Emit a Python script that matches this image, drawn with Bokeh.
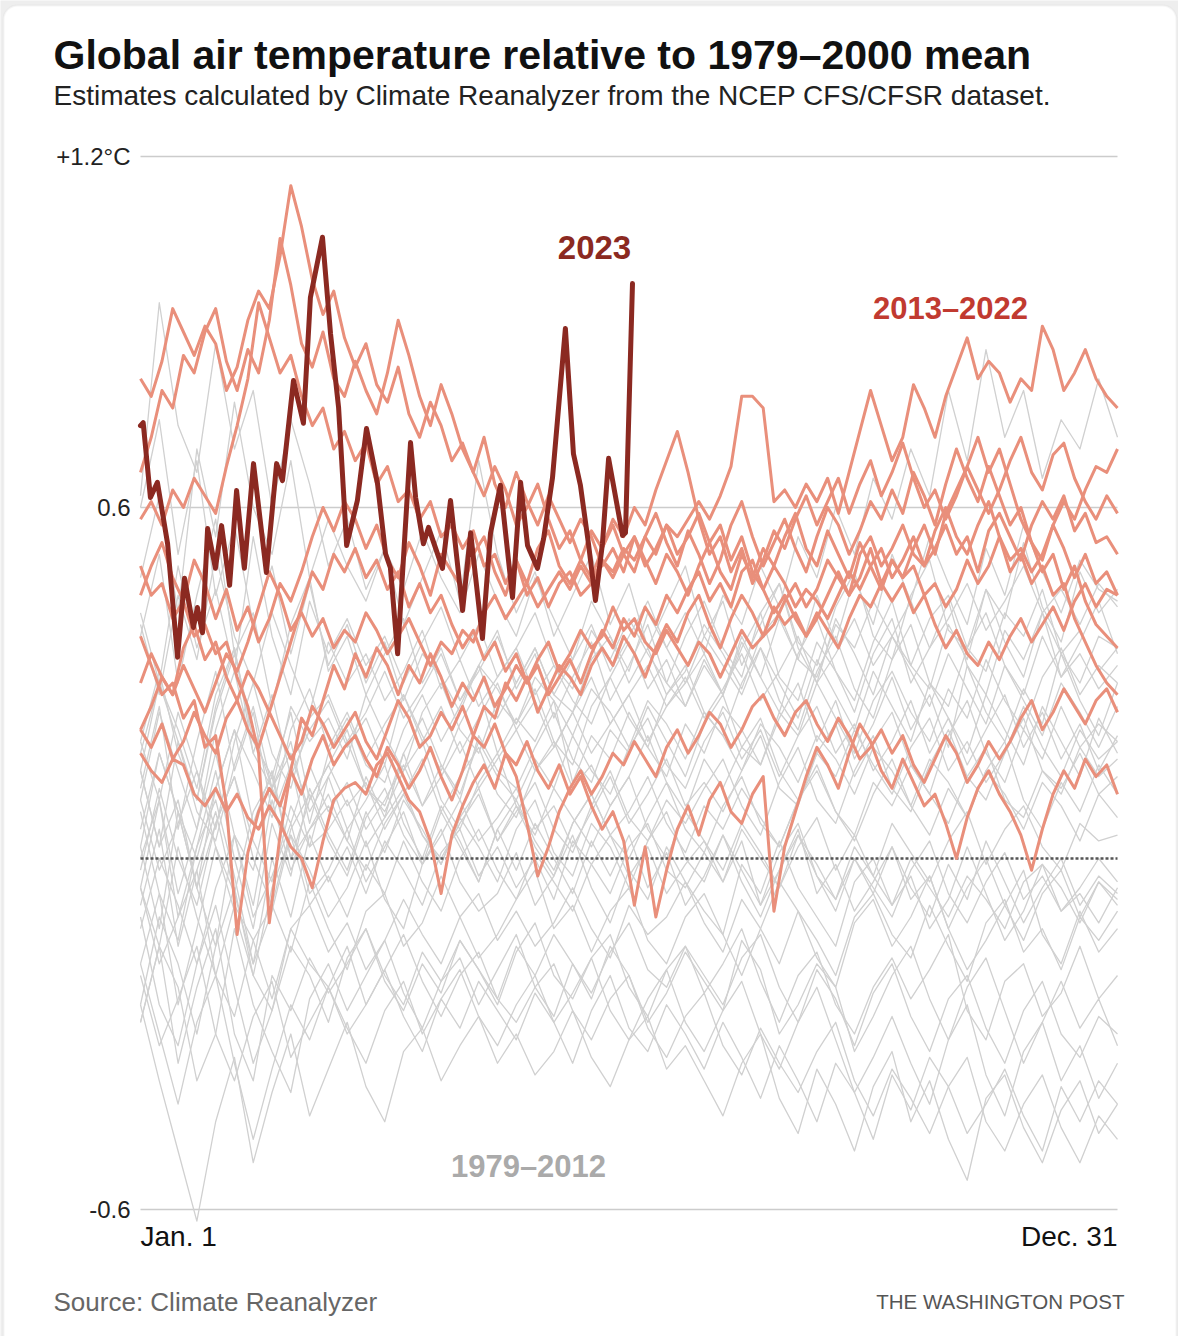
from bokeh.plotting import figure
from bokeh.models import Label, BoxAnnotation
from bokeh.embed import file_html
from bokeh.resources import INLINE

# ---------------- text ----------------
TITLE = "Global air temperature relative to 1979\u20132000 mean"
SUBTITLE = "Estimates calculated by Climate Reanalyzer from the NCEP CFS/CFSR dataset."
SOURCE = "Source: Climate Reanalyzer"
CREDIT = "THE WASHINGTON POST"
X_LABELS = ["Jan. 1", "Dec. 31"]
Y_TICKS = [1.2, 0.6, -0.6]
Y_TICK_LABELS = ["+1.2\u00b0C", "0.6", "-0.6"]
LABEL_2023 = "2023"
LABEL_RECENT = "2013\u20132022"
LABEL_OLD = "1979\u20132012"

# ---------------- data (anomaly in hundredths of a degree C) ----------------
GRAY_DAYS = list(range(0, 358, 7)) + [364]   # day of year of each sample
RED_DAYS = list(range(0, 365, 4))

T1979 = [-28,-15,-22,-38,-30,-12,-25,-33,-40,-24, -18,-26,-20,-14,-23,-29,-21,-17,-25,-19,
         -13,-22,-27,-18,-24,-15,-20,-28,-23,-16, -21,-26,-14,-19,-30,-25,-18,-22,-33,-27,
         -20,-15,-24,-31,-22,-17,-26,-35,-28,-21, -29,-24,-32]
T1980 = [-5,-18,-10,-2,-20,-27,-14,-8,-16,-4, -12,-19,-9,-6,-15,-11,-3,-10,-17,-13,
         -7,-2,-12,-8,-16,-9,-5,-14,-18,-10, -6,-13,-20,-12,-4,-9,-17,-22,-11,-7,
         -15,-10,-3,-12,-19,-14,-8,-2,-13,-18, -9,-16,-12]
T1981 = [8,-6,-14,2,10,-3,-18,-9,4,-2, -10,-5,3,-7,-12,-1,5,-4,-9,-6,
         1,-8,-3,4,-5,-11,-2,-7,2,-4, -9,-13,-1,-6,3,-5,-10,-15,-4,0,
         -8,-3,-12,-7,2,-6,-14,-9,-1,-5, -11,-4,-8]
T1982 = [-20,-32,-24,-15,-30,-38,-27,-21,-34,-28, -22,-30,-25,-19,-27,-33,-24,-29,-21,-26,
         -31,-23,-28,-35,-26,-20,-29,-33,-25,-30, -36,-28,-34,-41,-32,-38,-45,-35,-40,-48,
         -37,-43,-34,-39,-47,-42,-36,-44,-50,-39, -45,-38,-42]
T1983 = [20,32,18,10,25,35,22,12,18,8, 14,5,10,16,6,0,9,3,-4,5,
         -2,6,0,-6,3,-3,4,-5,1,-8, -3,4,-4,-10,-2,5,-6,-1,-9,-4,
         2,-7,-3,-12,-5,0,-8,-14,-6,-2, -10,-4,-7]
T1984 = [-18,-30,-42,-28,-20,-35,-48,-36,-25,-31, -22,-29,-35,-26,-21,-30,-24,-19,-27,-32,
         -25,-20,-28,-23,-17,-26,-31,-24,-19,-28, -33,-26,-21,-30,-36,-28,-22,-31,-40,-34,
         -27,-35,-42,-31,-25,-37,-44,-33,-28,-38, -32,-41,-35]
T1985 = [-25,-38,-50,-62,-45,-34,-52,-40,-30,-44, -36,-28,-39,-45,-33,-29,-38,-32,-27,-35,
         -30,-37,-33,-26,-34,-39,-31,-27,-36,-32, -38,-44,-35,-30,-41,-47,-36,-42,-50,-39,
         -33,-45,-38,-48,-55,-41,-37,-46,-52,-43, -38,-47,-42]
T1986 = [-10,-25,-32,-18,-8,-22,-35,-26,-15,-20, -28,-17,-12,-21,-26,-18,-23,-14,-19,-25,
         -16,-11,-20,-24,-17,-13,-22,-27,-19,-15, -23,-18,-12,-21,-28,-20,-16,-25,-30,-22,
         -17,-24,-19,-13,-26,-31,-21,-18,-27,-23, -15,-24,-20]
T1987 = [-12,0,-8,-18,-5,4,-10,-3,6,-6, -2,5,-4,2,8,-1,4,10,3,7,
         12,5,9,2,8,14,6,11,17,9, 13,8,15,21,12,9,18,14,22,16,
         11,19,24,15,20,13,18,26,19,14, 22,17,20]
T1988 = [18,30,22,12,28,36,20,14,25,10, 16,22,12,8,15,20,10,5,13,18,
         9,4,12,7,2,9,14,5,0,8, 3,-2,6,1,-5,4,-1,-7,2,-3,
         -8,0,-5,-10,-3,-7,-12,-4,-1,-9, -6,-11,-5]
T1989 = [-25,-10,-18,-30,-15,-5,-20,-26,-12,-8, -16,-11,-19,-14,-7,-13,-18,-10,-6,-14,
         -9,-15,-11,-5,-12,-17,-8,-13,-10,-4, -11,-16,-7,-12,-18,-9,-14,-20,-10,-6,
         -13,-17,-8,-15,-21,-11,-7,-16,-12,-19, -10,-14,-9]
T1990 = [-2,12,0,-8,6,14,3,-4,9,2, 5,10,2,7,12,4,0,6,11,3,
         8,13,5,1,9,15,7,3,10,6, 12,17,9,4,13,19,10,6,15,21,
         12,8,16,22,14,10,18,24,15,11, 19,14,17]
T1991 = [10,-2,6,15,2,-6,8,14,0,5, 9,3,-2,6,11,4,-1,7,2,-4,
         5,10,1,-3,6,2,-5,3,8,0, -4,4,-2,-8,1,6,-3,-7,0,-5,
         -10,-2,3,-6,-11,-4,1,-7,-3,-9, -5,0,-4]
T1992 = [-5,-15,2,-10,-20,-8,-14,-24,-12,-18, -22,-15,-25,-19,-13,-21,-27,-20,-16,-24,
         -28,-22,-18,-26,-31,-24,-20,-29,-34,-27, -23,-32,-37,-29,-35,-40,-33,-28,-38,-44,
         -36,-41,-47,-39,-34,-45,-50,-42,-37,-46, -52,-44,-48]
T1993 = [-28,-15,-35,-22,-12,-30,-38,-20,-26,-17, -23,-18,-12,-20,-25,-16,-21,-14,-19,-24,
         -15,-20,-13,-18,-23,-16,-11,-19,-22,-15, -20,-25,-17,-13,-22,-28,-19,-24,-32,-23,
         -18,-27,-33,-24,-20,-29,-35,-26,-21,-30, -34,-27,-30]
T1994 = [-18,-6,-25,-12,2,-9,-20,-5,4,-8, -3,-10,-1,-6,3,-4,-9,0,5,-2,
         -7,1,-4,-9,-1,4,-3,2,-6,-1, 3,-4,5,0,-5,2,7,-2,4,-3,
         6,1,-4,3,8,-1,5,9,2,-2, 6,3,4]
T1995 = [2,18,8,-5,12,22,6,15,0,10, 16,9,13,5,11,17,8,14,19,11,
         7,15,20,12,16,9,14,21,13,8, 17,12,19,24,15,10,18,23,14,20,
         25,16,11,21,27,18,13,22,17,26, 19,23,20]
T1996 = [-8,5,-15,-2,8,-6,-18,0,-10,4, -4,2,-6,3,-2,-8,1,5,-3,2,
         -5,0,-7,3,-1,-6,2,6,-2,-5, 1,-4,3,-8,-2,4,-3,-9,0,-6,
         2,-5,-10,-1,-7,3,-4,-11,-5,0, -8,-3,-6]
T1997 = [0,10,-6,5,18,4,-2,12,6,16, 8,13,5,10,16,9,14,20,12,17,
         22,15,19,25,18,23,28,20,26,31, 24,29,35,27,32,38,30,35,41,33,
         38,44,36,41,47,39,44,50,42,46, 40,47,43]
T1998 = [62,95,74,66,88,70,80,60,75,64, 50,58,46,53,40,48,56,44,68,52,
         42,49,38,45,52,40,47,36,43,50, 38,44,33,40,47,36,30,41,35,28,
         38,32,26,35,29,23,33,27,21,30, 25,19,26]
T1999 = [15,2,10,-5,6,14,0,-8,5,11, 3,-3,7,12,4,-1,8,2,-4,5,
         10,3,-2,6,11,4,0,7,13,5, 1,9,14,6,2,10,16,8,3,11,
         17,9,4,12,7,15,20,10,5,13, 8,16,11]
T2000 = [-5,10,-10,2,15,0,-12,6,-3,12, 4,-2,8,1,10,5,-1,7,12,3,
         9,2,-3,6,11,4,8,14,6,1, 9,5,12,7,2,10,15,8,4,13,
         9,16,11,6,14,19,10,7,15,12, 18,11,14]
T2001 = [10,25,15,5,22,32,18,12,26,20, 24,17,28,21,15,25,30,22,18,27,
         23,29,20,16,26,31,24,19,28,33, 25,21,30,36,27,22,32,38,29,24,
         34,40,30,26,36,42,33,28,38,31, 35,29,33]
T2002 = [38,52,30,45,58,35,42,26,40,48, 32,38,28,35,41,30,36,27,33,39,
         29,35,24,31,37,27,33,40,30,26, 34,28,36,42,31,27,37,32,25,35,
         41,30,36,44,33,28,39,34,42,31, 37,44,35]
T2003 = [40,28,45,34,52,38,30,42,33,25, 37,30,35,27,32,39,29,34,26,31,
         36,28,33,27,23,31,37,29,34,26, 33,28,38,31,25,35,41,32,27,37,
         44,33,29,40,34,46,37,31,42,35, 39,32,36]
T2004 = [15,30,20,10,26,36,18,28,14,22, 27,19,24,16,28,21,15,23,29,18,
         24,20,27,13,21,17,25,19,14,23, 18,26,22,16,24,30,20,27,17,23,
         31,22,28,19,33,25,20,29,23,35, 27,21,30]
T2005 = [42,30,50,36,46,32,55,38,28,44, 35,41,33,38,30,37,43,34,40,31,
         36,42,33,29,39,34,41,35,30,38, 44,36,31,42,47,37,33,43,49,38,
         34,45,51,39,36,46,41,54,43,37, 49,42,46]
T2006 = [12,26,5,20,32,15,25,8,22,29, 19,25,17,23,28,20,26,18,24,30,
         22,27,19,25,31,23,28,33,26,30, 35,28,37,31,41,34,45,37,48,40,
         52,44,55,47,40,53,45,57,49,42, 51,46,44]
T2007 = [60,75,52,68,45,57,40,50,35,47, 33,40,30,37,27,35,31,25,33,29,
         23,31,27,21,29,25,19,27,23,17, 25,21,15,23,19,13,21,17,11,19,
         15,9,17,13,7,15,11,5,13,9, 3,11,7]
T2008 = [2,-12,8,-5,-15,4,-8,10,-2,5, 11,3,14,7,18,9,16,11,20,14,
         10,17,12,21,15,11,19,24,16,12, 20,25,17,22,14,21,26,18,23,15,
         20,27,18,24,16,22,28,19,25,17, 23,15,21]
T2009 = [20,10,25,15,5,20,30,18,12,24, 28,20,25,32,24,29,35,27,32,38,
         30,36,28,34,40,32,38,44,36,42, 35,45,40,50,43,55,48,60,52,65,
         58,70,62,80,68,87,72,80,65,75, 70,82,72]
T2010 = [48,62,42,70,55,78,60,52,68,48, 58,50,44,53,46,56,48,42,52,44,
         38,48,41,34,44,38,32,42,36,30, 38,33,28,36,30,24,34,28,22,32,
         26,20,30,24,18,28,22,16,26,20, 14,24,18]
T2011 = [5,18,8,0,12,22,15,7,16,2, 14,20,12,9,18,24,16,10,21,15,
         12,19,25,17,13,22,18,26,20,14, 23,28,19,16,25,21,30,24,18,27,
         32,25,20,29,24,34,27,22,31,36, 28,33,30]
T2012 = [15,2,20,8,3,16,26,12,20,6, 18,24,16,13,22,28,20,26,33,24,
         30,36,28,25,34,38,30,36,28,32, 40,35,29,38,42,34,31,40,36,44,
         38,33,41,45,36,32,42,38,46,35, 30,38,36]

T2013 = [22,19,23,17,20,25,21,18,24,27, 22,19,25,21,17,20,26,23,19,22,
         25,20,17,22,27,24,19,21,25,22, 26,21,19,23,18,16,20,15,12,16,
         11,14,9,5,8,3,-8,2,-10,-2, 5,9,4,10,13,8,6,11,14,-9,
         2,8,14,19,16,12,18,23,20,15, 12,17,13,9,11,6,0,7,12,15,
         11,8,4,-2,5,11,15,12,17,14, 16,11]
T2014 = [18,15,13,17,16,11,9,12,8,11, 7,5,9,6,2,0,-5,3,10,12,
         13,11,16,18,14,10,8,3,-6,4, 9,13,16,12,18,14,6,-3,2,8,
         12,15,11,14,18,16,20,17,14,19, 22,18,21,25,23,19,22,26,28,24,
         21,25,27,23,20,24,21,17,19,22, 18,21,16,13,17,21,18,13,16,20,
         17,20,24,27,22,25,29,26,23,27, 29,25]
T2015 = [22,26,31,28,33,29,25,30,35,32, 37,43,49,45,39,42,38,41,36,39,
         37,42,39,35,38,41,37,33,37,35, 39,37,42,45,41,44,47,43,46,49,
         46,50,47,51,49,53,51,55,52,57, 55,58,61,58,62,67,79,79,77,61,
         63,60,64,61,65,59,66,73,80,74, 68,72,81,77,72,79,84,89,82,85,
         83,78,82,80,91,87,80,83,87,82, 79,77]
T2016 = [82,79,85,94,90,86,91,88,80,84, 92,97,94,103,115,108,99,93,97,89,
         84,88,81,78,84,76,72,78,74,68, 71,66,62,67,63,57,60,64,58,53,
         56,51,48,53,57,52,49,55,59,54, 50,56,52,47,51,57,61,55,50,54,
         58,53,49,55,60,57,52,56,61,58, 63,59,66,62,57,64,70,65,61,67,
         62,57,60,54,51,57,53,48,52,47, 49,45]
T2017 = [58,61,57,63,60,65,62,59,67,74, 82,95,89,83,86,79,74,77,70,73,
         68,71,64,67,61,63,58,61,55,57, 53,56,50,52,47,51,45,48,43,47,
         49,45,47,51,48,52,55,50,53,57, 52,55,59,54,57,51,55,49,46,50,
         47,43,46,44,41,45,49,46,50,53, 48,51,55,50,53,57,52,55,49,56,
         59,55,51,57,61,58,62,56,59,54, 55,52]
T2018 = [50,45,47,41,44,38,40,35,37,31, 26,18,-11,4,15,24,21,27,33,29,
         35,31,36,33,28,33,30,35,31,26, 30,27,31,26,29,33,30,34,37,32,
         35,39,36,38,43,39,41,37,35,39, 36,33,37,35,31,35,39,36,38,43,
         40,42,38,41,45,49,45,48,53,47, 51,48,50,45,47,43,46,51,47,50,
         55,51,53,49,52,57,61,58,63,67, 66,70]
T2019 = [45,50,54,48,44,51,47,41,46,39, 43,37,41,47,44,49,55,60,56,61,
         58,53,57,51,48,54,50,45,52,49, 46,52,55,49,45,51,47,53,56,50,
         47,51,56,53,58,55,60,57,63,68, 73,66,58,52,55,49,53,47,51,56,
         53,58,62,57,61,65,59,64,68,62, 66,71,65,60,63,58,62,67,63,59,
         63,68,72,66,63,69,71,65,61,58, 62,59]
T2020 = [66,72,80,77,86,83,90,94,85,80, 87,83,92,106,98,88,84,90,82,79,
         85,80,76,83,92,86,79,74,81,76, 70,66,72,64,60,66,61,57,62,58,
         54,58,55,50,53,49,55,51,47,52, 49,45,50,54,49,46,52,48,53,50,
         55,59,53,50,56,52,48,54,50,46, 51,48,53,57,52,59,63,67,72,66,
         70,64,58,54,49,52,46,50,44,40, 38,36]
T2021 = [38,33,28,30,24,27,19,21,9,-13, 1,8,12,9,15,11,17,21,16,19,
         21,17,14,19,16,12,15,19,14,10, 15,21,26,24,30,27,31,25,29,33,
         31,28,33,36,33,38,35,31,36,40, 37,42,45,40,36,41,45,42,38,40,
         44,47,43,46,51,48,45,52,55,50, 53,57,52,50,56,60,55,52,57,61,
         55,49,52,47,50,45,47,41,37,33, 30,28]
T2022 = [30,35,31,28,36,40,34,37,31,27, 32,29,25,31,37,43,49,46,52,49,
         53,48,51,46,49,43,47,42,45,40, 36,39,34,37,32,35,30,33,28,31,
         34,30,35,39,36,41,38,43,40,45, 42,46,49,44,47,43,49,51,46,42,
         45,41,38,42,39,36,41,45,43,47, 44,47,42,45,40,36,39,35,33,37,
         34,38,41,37,40,43,39,44,47,43, 46,45]

DAYS_2023 = [0, 1, 3.7, 6.3, 10.1, 13.8, 16.4, 19.7, 21.2, 23.1, 25.0, 27.9, 30.2, 33.2, 35.8,
             38.7, 42.1, 46.9, 50.7, 52.9, 57.0, 60.7, 63.3, 67.8, 70.8, 73.8, 76.8, 80.8, 84.2,
             88.3, 91.3, 93.1, 95.8, 100.6, 102.5, 105.4, 107.3, 112.5, 115.5, 120.0, 123.0,
             127.4, 130.4, 134.1, 138.6, 141.6, 144.2, 147.9, 150.2, 153.5, 158.3, 161.3, 163.9,
             166.9, 169.5, 172.1, 174.4, 179.6, 180.7, 183.3]
T2023 = [0.74, 0.745, 0.617, 0.643, 0.538, 0.344, 0.479, 0.395, 0.429, 0.386, 0.564, 0.496,
         0.569, 0.467, 0.629, 0.496, 0.675, 0.489, 0.675, 0.646, 0.817, 0.744, 0.959, 1.062,
         0.897, 0.771, 0.535, 0.612, 0.735, 0.641, 0.521, 0.497, 0.35, 0.711, 0.617, 0.538,
         0.566, 0.496, 0.612, 0.424, 0.557, 0.376, 0.556, 0.638, 0.446, 0.643, 0.535, 0.496,
         0.547, 0.651, 0.906, 0.692, 0.638, 0.538, 0.441, 0.538, 0.684, 0.552, 0.557, 0.983]

OLD_YEARS = [T1979, T1980, T1981, T1982, T1983, T1984, T1985, T1986, T1987, T1988, T1989,
             T1990, T1991, T1992, T1993, T1994, T1995, T1996, T1997, T1998, T1999, T2000,
             T2001, T2002, T2003, T2004, T2005, T2006, T2007, T2008, T2009, T2010, T2011, T2012]
RECENT_YEARS = [T2013, T2014, T2015, T2016, T2017, T2018, T2019, T2020, T2021, T2022]


def to_lines(series_list, days):
    xs, ys = [], []
    for s in series_list:
        n = min(len(s), len(days))
        xs.append(days[:n])
        ys.append([v / 100 for v in s[:n]])
    return xs, ys


# ---------------- layout: page pixel -> data mapping ----------------
W, H = 1178, 1336
FL, FR, FT, FB = 140, 1117, 156, 1209          # where day 0..364 / +1.2..-0.6 sit on the page
D0, D1 = GRAY_DAYS[0], GRAY_DAYS[-1]
V_TOP, V_BOT = Y_TICKS[0], Y_TICKS[-1]


def px_x(px):
    return D0 + (px - FL) * (D1 - D0) / (FR - FL)


def px_y(py):
    return V_TOP - (py - FT) * (V_TOP - V_BOT) / (FB - FT)


FONT = "Liberation Sans"

p = figure(width=W, height=H,
           x_range=(px_x(0), px_x(W)), y_range=(px_y(H), px_y(0)),
           output_backend="svg", toolbar_location=None, title=None,
           x_axis_location=None, y_axis_location=None,
           min_border_left=0, min_border_right=0, min_border_top=0, min_border_bottom=0,
           background_fill_color="#eeeeee", border_fill_color="#eeeeee",
           outline_line_color=None)
p.grid.visible = False

# card
p.add_layout(BoxAnnotation(left=px_x(3), right=px_x(1176), top=px_y(5), bottom=px_y(H + 40),
                           fill_color="white", fill_alpha=1, line_color="#dddddd",
                           line_width=2, border_radius=14, level="underlay"))

# grid lines (value ticks)
p.segment(x0=[D0] * len(Y_TICKS), x1=[D1] * len(Y_TICKS), y0=Y_TICKS, y1=Y_TICKS,
          line_color="#cccccc", line_width=1.5)

gx, gy = to_lines(OLD_YEARS, GRAY_DAYS)
p.multi_line(gx, gy, line_color="#d0d0d0", line_width=1.3, line_join="round")

# 1979-2000 mean (zero)
p.line([D0, D1], [0, 0], line_color="#555555", line_dash="3 2", line_width=2.5)

rx, ry = to_lines(RECENT_YEARS, RED_DAYS)
p.multi_line(rx, ry, line_color="#e98f7b", line_width=3, line_join="round")

p.line(DAYS_2023, T2023, line_color="#8b2921", line_width=5, line_join="round",
       line_cap="round")


def add_text(text, x, y, size, color="#111111", bold=False, align="left",
             baseline="middle"):
    p.add_layout(Label(x=x, y=y, text=text, text_font=FONT,
                       text_font_size=size, text_color=color,
                       text_font_style="bold" if bold else "normal",
                       text_align=align, text_baseline=baseline))


for tick, lab in zip(Y_TICKS, Y_TICK_LABELS):
    add_text(lab, px_x(130), tick, "24px", "#222222", align="right")

add_text(TITLE, px_x(53), px_y(54), "41px", "#111111", bold=True)
add_text(SUBTITLE, px_x(53), px_y(95), "28px", "#222222")
add_text(X_LABELS[0], D0, px_y(1236), "28px", "#111111")
add_text(X_LABELS[1], D1, px_y(1236), "28px", "#111111", align="right")
add_text(SOURCE, px_x(53), px_y(1301), "26px", "#666666")
add_text(CREDIT, px_x(1124), px_y(1301), "20.5px", "#555555", align="right")
add_text(LABEL_2023, px_x(594), px_y(247), "33px", "#8b2921", bold=True, align="center")
add_text(LABEL_RECENT, px_x(950), px_y(308), "31px", "#c13a30", bold=True, align="center")
add_text(LABEL_OLD, px_x(528), px_y(1166), "31px", "#aaaaaa", bold=True, align="center")

open("out.html", "w").write(file_html(p, INLINE))
